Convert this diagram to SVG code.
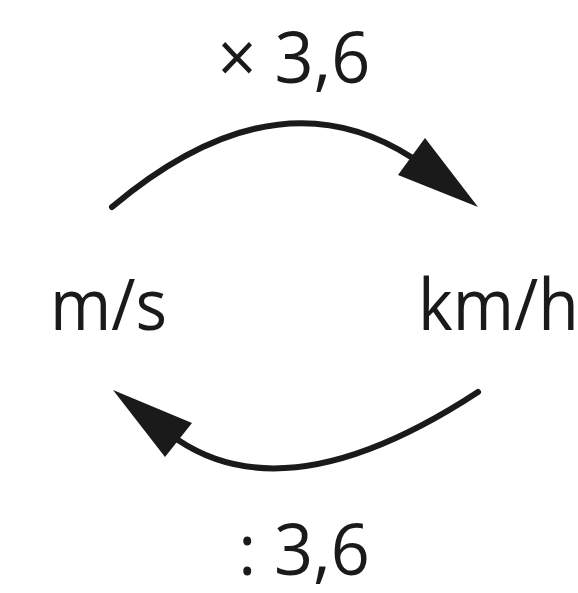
<svg xmlns="http://www.w3.org/2000/svg" width="578" height="593" viewBox="0 0 578 593">
<style>
.t{font-family:"Open Sans","Noto Sans",sans-serif;font-size:72px;fill:#1a1a1a}
.c{fill:none;stroke:#1a1a1a;stroke-width:6;stroke-linecap:round}
.h{fill:#1a1a1a}
</style>
<rect width="578" height="593" fill="#fff"/>
<g id="label-top"><text class="t" text-anchor="middle" transform="translate(294,83) scale(0.95,1)">× 3,6</text></g>
<g id="node-ms"><text class="t" transform="translate(50,330) scale(0.92,1)">m/s</text></g>
<g id="node-kmh"><text class="t" transform="translate(418,330) scale(0.92,1)">km/h</text></g>
<g id="label-bottom"><text class="t" text-anchor="middle" transform="translate(304,575) scale(0.95,1)">: 3,6</text></g>
<g id="connectors">
<path class="c" d="M112,207 Q275,70 411,157"/>
<polygon class="h" points="425,138 478,207 398,175"/>
<path class="c" d="M478,392 Q290,515 178,440"/>
<polygon class="h" points="113,390 192,423 165,457"/>
</g>
</svg>
